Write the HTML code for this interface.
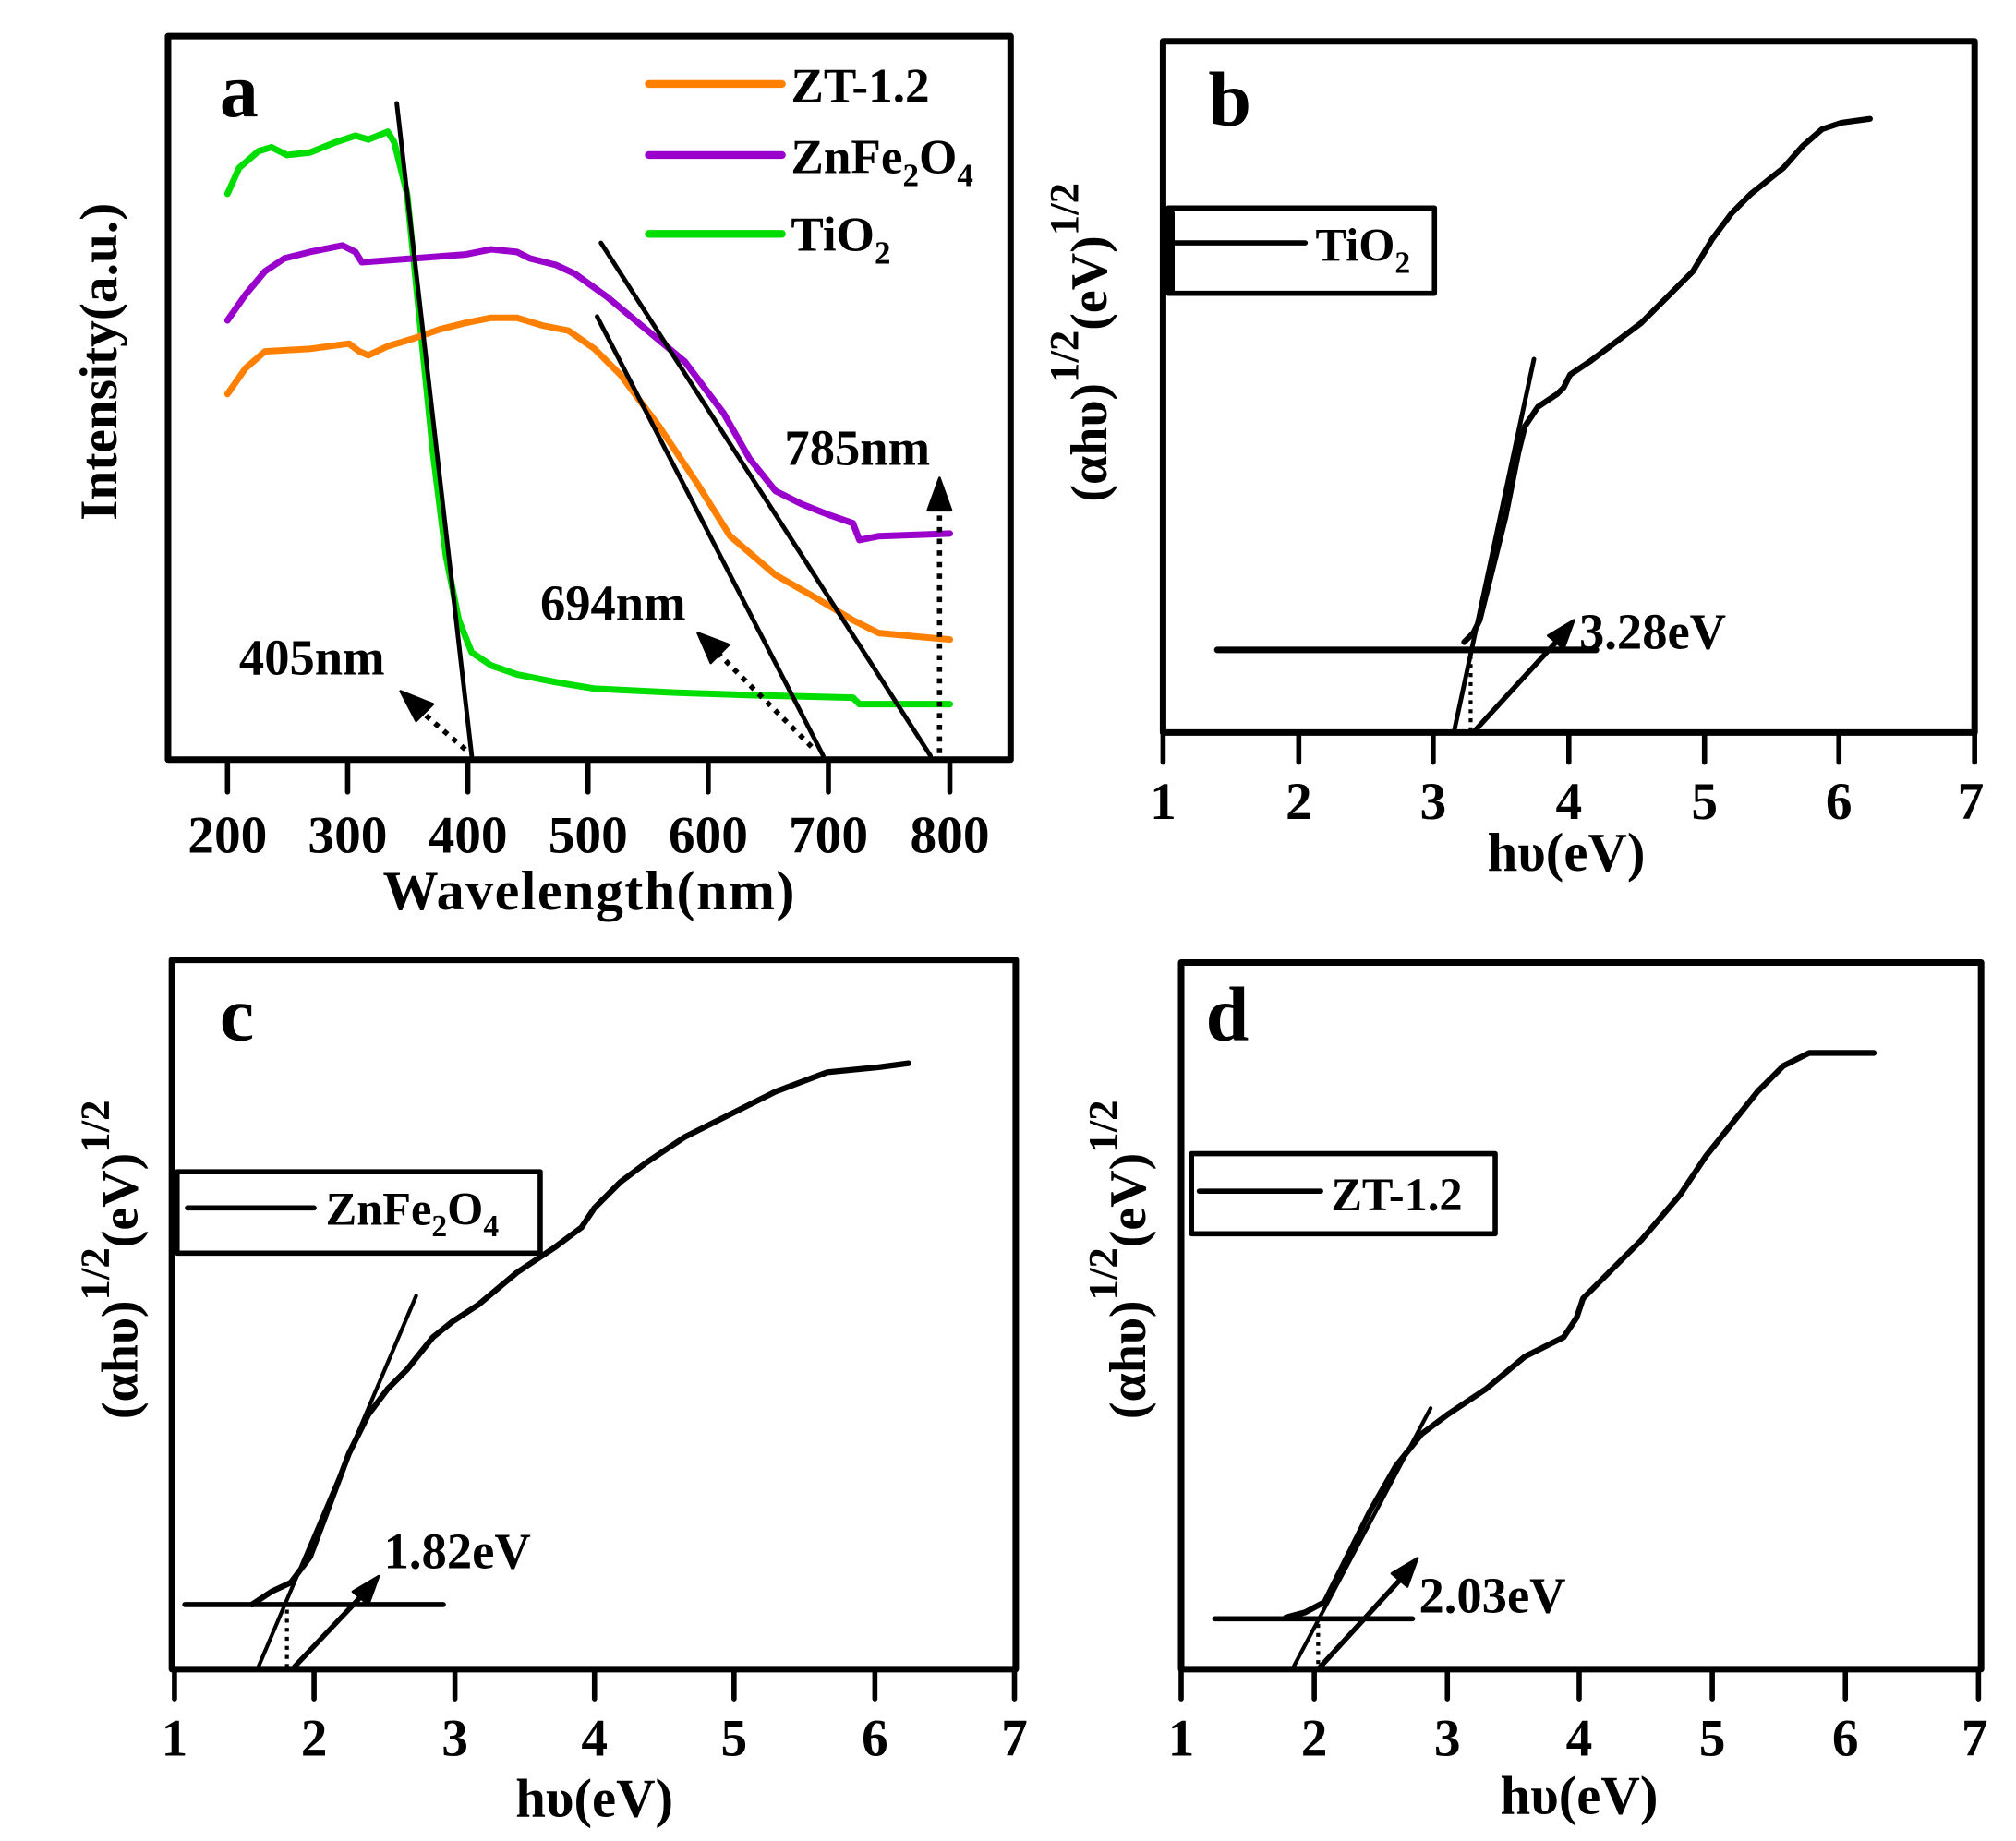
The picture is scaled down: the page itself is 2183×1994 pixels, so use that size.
<!DOCTYPE html>
<html><head><meta charset="utf-8"><style>
html,body{margin:0;padding:0;background:#fff;}
svg{display:block;}
text{font-family:"Liberation Serif",serif;font-weight:bold;fill:#000;}
</style></head><body>
<svg width="2183" height="1994" viewBox="0 0 1560 1425" xmlns="http://www.w3.org/2000/svg">
<g fill="none" stroke-linejoin="round" stroke-linecap="round">
<!-- Panel a -->
<rect x="130" y="28" width="652" height="560" stroke="#000" stroke-width="5"/>
<g stroke="#000" stroke-width="4">
<line x1="176" y1="588" x2="176" y2="613"/><line x1="269" y1="588" x2="269" y2="613"/><line x1="362" y1="588" x2="362" y2="613"/><line x1="455" y1="588" x2="455" y2="613"/><line x1="548" y1="588" x2="548" y2="613"/><line x1="641" y1="588" x2="641" y2="613"/><line x1="735" y1="588" x2="735" y2="613"/>
</g>
<polyline stroke="#00dd00" stroke-width="5" points="176,150 185,130 200,117 210,114 222,120 240,118 260,110 275,105 285,108 300,102 305,110 315,150 325,250 335,350 345,430 355,480 365,505 380,515 400,522 430,528 460,533 520,536 580,538 660,540 665,545 735,545"/>
<polyline stroke="#9900cc" stroke-width="5" points="176,248 190,228 205,210 220,200 240,195 265,190 275,195 280,203 320,200 360,197 380,193 400,195 410,200 430,205 445,212 470,230 500,255 530,280 560,320 580,355 600,380 620,390 640,398 660,405 665,418 680,415 735,413"/>
<polyline stroke="#ff8000" stroke-width="5" points="176,305 190,285 205,272 240,270 270,266 278,272 285,275 300,268 320,262 340,255 360,250 380,246 400,246 420,252 440,256 460,270 480,290 510,330 540,375 565,415 600,445 630,462 660,480 680,490 735,495"/>
<g stroke="#000" stroke-width="3.5">
<line x1="307" y1="80" x2="365" y2="585"/><line x1="462" y1="245" x2="637" y2="585"/><line x1="465" y1="188" x2="720" y2="585"/>
</g>
<g stroke="#000" stroke-width="4" stroke-dasharray="4,5" stroke-linecap="butt">
<line x1="360" y1="580" x2="325" y2="550"/><line x1="628" y1="578" x2="555" y2="505"/><line x1="727" y1="583" x2="727" y2="395"/>
</g>
<path d="M310,535 L335,545 L322,558 z M540,490 L564,499 L550,513 z M727,370 L718,395 L736,395 z" fill="#000" stroke="#000" stroke-width="2"/>
<line x1="502" y1="65" x2="605" y2="65" stroke="#ff8000" stroke-width="6"/>
<line x1="502" y1="120" x2="605" y2="120" stroke="#9900cc" stroke-width="6"/>
<line x1="502" y1="181" x2="605" y2="181" stroke="#00dd00" stroke-width="6"/>

<!-- Panel b -->
<rect x="900" y="32" width="628" height="535" stroke="#000" stroke-width="5"/>
<g stroke="#000" stroke-width="4">
<line x1="900" y1="567" x2="900" y2="590"/><line x1="1005" y1="567" x2="1005" y2="590"/><line x1="1109" y1="567" x2="1109" y2="590"/><line x1="1214" y1="567" x2="1214" y2="590"/><line x1="1319" y1="567" x2="1319" y2="590"/><line x1="1423" y1="567" x2="1423" y2="590"/><line x1="1528" y1="567" x2="1528" y2="590"/>
</g>
<polyline stroke="#000" stroke-width="4.5" points="1133,497 1140,490 1145,480 1155,440 1165,400 1175,350 1180,330 1190,315 1205,305 1210,300 1215,290 1230,280 1250,265 1270,250 1290,230 1310,210 1325,185 1340,165 1355,150 1380,130 1395,113 1410,100 1425,95 1447,92"/>
<line x1="1125" y1="567" x2="1187" y2="278" stroke="#000" stroke-width="3.5"/>
<line x1="942" y1="503" x2="1235" y2="503" stroke="#000" stroke-width="5"/>
<line x1="1140" y1="567" x2="1205" y2="496" stroke="#000" stroke-width="4"/>
<path d="M1218,480 L1198,492 L1210,502 z" fill="#000" stroke="#000" stroke-width="2"/>
<line x1="1138" y1="507" x2="1138" y2="565" stroke="#000" stroke-width="3" stroke-dasharray="3,4" stroke-linecap="butt"/>
<rect x="904" y="161" width="206" height="66" stroke="#000" stroke-width="4"/>
<line x1="908" y1="188" x2="1010" y2="188" stroke="#000" stroke-width="4"/>
<line x1="906" y1="165" x2="906" y2="225" stroke="#000" stroke-width="6"/>

<!-- Panel c -->
<rect x="133" y="743" width="653" height="549" stroke="#000" stroke-width="5"/>
<g stroke="#000" stroke-width="4">
<line x1="135" y1="1292" x2="135" y2="1315"/><line x1="243" y1="1292" x2="243" y2="1315"/><line x1="352" y1="1292" x2="352" y2="1315"/><line x1="460" y1="1292" x2="460" y2="1315"/><line x1="568" y1="1292" x2="568" y2="1315"/><line x1="677" y1="1292" x2="677" y2="1315"/><line x1="785" y1="1292" x2="785" y2="1315"/>
</g>
<polyline stroke="#000" stroke-width="4.5" points="195,1242 210,1232 225,1225 240,1205 255,1165 270,1125 285,1095 300,1075 315,1060 335,1035 350,1023 370,1010 400,985 430,965 450,950 460,935 480,915 500,900 530,880 560,865 600,845 640,830 680,826 703,823"/>
<line x1="200" y1="1290" x2="322" y2="1003" stroke="#000" stroke-width="3"/>
<line x1="143" y1="1242" x2="343" y2="1242" stroke="#000" stroke-width="4"/>
<line x1="228" y1="1290" x2="282" y2="1233" stroke="#000" stroke-width="4"/>
<path d="M293,1220 L273,1232 L285,1242 z" fill="#000" stroke="#000" stroke-width="2"/>
<line x1="222" y1="1246" x2="222" y2="1290" stroke="#000" stroke-width="3" stroke-dasharray="3,4" stroke-linecap="butt"/>
<rect x="137" y="907" width="281" height="63" stroke="#000" stroke-width="4"/>
<line x1="145" y1="935" x2="243" y2="935" stroke="#000" stroke-width="4"/>

<!-- Panel d -->
<rect x="914" y="745" width="619" height="547" stroke="#000" stroke-width="5"/>
<g stroke="#000" stroke-width="4">
<line x1="914" y1="1292" x2="914" y2="1315"/><line x1="1017" y1="1292" x2="1017" y2="1315"/><line x1="1120" y1="1292" x2="1120" y2="1315"/><line x1="1222" y1="1292" x2="1222" y2="1315"/><line x1="1325" y1="1292" x2="1325" y2="1315"/><line x1="1428" y1="1292" x2="1428" y2="1315"/><line x1="1531" y1="1292" x2="1531" y2="1315"/>
</g>
<polyline stroke="#000" stroke-width="4.5" points="995,1252 1010,1248 1025,1240 1040,1210 1060,1170 1080,1135 1100,1110 1120,1095 1150,1075 1180,1050 1210,1035 1220,1020 1225,1005 1240,990 1270,960 1300,925 1320,895 1340,870 1360,845 1380,825 1400,815 1430,815 1450,815"/>
<line x1="1000" y1="1292" x2="1107" y2="1090" stroke="#000" stroke-width="3"/>
<line x1="940" y1="1253" x2="1093" y2="1253" stroke="#000" stroke-width="4"/>
<line x1="1020" y1="1292" x2="1086" y2="1220" stroke="#000" stroke-width="4"/>
<path d="M1097,1206 L1077,1218 L1089,1228 z" fill="#000" stroke="#000" stroke-width="2"/>
<line x1="1020" y1="1257" x2="1020" y2="1290" stroke="#000" stroke-width="3" stroke-dasharray="3,4" stroke-linecap="butt"/>
<rect x="922" y="893" width="235" height="62" stroke="#000" stroke-width="4"/>
<line x1="928" y1="922" x2="1022" y2="922" stroke="#000" stroke-width="4"/>
</g>

<!-- Text panel a -->
<text x="170" y="90" font-size="60">a</text>
<text x="612" y="79" font-size="38">ZT-1.2</text>
<text x="612" y="134" font-size="38">ZnFe<tspan font-size="25" dy="10">2</tspan><tspan dy="-10">O</tspan><tspan font-size="25" dy="10">4</tspan></text>
<text x="612" y="194" font-size="38">TiO<tspan font-size="25" dy="10">2</tspan></text>
<text x="185" y="522" font-size="39">405nm</text>
<text x="418" y="480" font-size="39">694nm</text>
<text x="607" y="360" font-size="39">785nm</text>
<g font-size="41" text-anchor="middle">
<text x="176" y="660">200</text><text x="269" y="660">300</text><text x="362" y="660">400</text><text x="455" y="660">500</text><text x="548" y="660">600</text><text x="641" y="660">700</text><text x="735" y="660">800</text>
</g>
<text x="456" y="704" font-size="43" text-anchor="middle" letter-spacing="1">Wavelength(nm)</text>
<text transform="translate(90,280) rotate(-90)" font-size="41" text-anchor="middle">Intensity(a.u.)</text>

<!-- Text panel b -->
<text x="935" y="97" font-size="60">b</text>
<text x="1018" y="202" font-size="36">TiO<tspan font-size="24" dy="9">2</tspan></text>
<text x="1222" y="502" font-size="39">3.28eV</text>
<g font-size="41" text-anchor="middle">
<text x="900" y="634">1</text><text x="1005" y="634">2</text><text x="1109" y="634">3</text><text x="1214" y="634">4</text><text x="1319" y="634">5</text><text x="1423" y="634">6</text><text x="1525" y="634">7</text>
</g>
<text x="1212" y="674" font-size="42" text-anchor="middle">hυ(eV)</text>
<text transform="translate(856,265) rotate(-90)" font-size="40" text-anchor="middle">(αhυ)<tspan font-size="32" dy="-22">1/2</tspan><tspan dy="22">(eV)</tspan><tspan font-size="32" dy="-22">1/2</tspan></text>

<!-- Text panel c -->
<text x="170" y="805" font-size="60">c</text>
<text x="252" y="948" font-size="36">ZnFe<tspan font-size="24" dy="9">2</tspan><tspan dy="-9">O</tspan><tspan font-size="24" dy="9">4</tspan></text>
<text x="297" y="1214" font-size="39">1.82eV</text>
<g font-size="41" text-anchor="middle">
<text x="135" y="1359">1</text><text x="243" y="1359">2</text><text x="352" y="1359">3</text><text x="460" y="1359">4</text><text x="568" y="1359">5</text><text x="677" y="1359">6</text><text x="785" y="1359">7</text>
</g>
<text x="460" y="1406" font-size="42" text-anchor="middle">hυ(eV)</text>
<text transform="translate(106,975) rotate(-90)" font-size="40" text-anchor="middle">(αhυ)<tspan font-size="32" dy="-22">1/2</tspan><tspan dy="22">(eV)</tspan><tspan font-size="32" dy="-22">1/2</tspan></text>

<!-- Text panel d -->
<text x="933" y="805" font-size="60">d</text>
<text x="1030" y="937" font-size="36">ZT-1.2</text>
<text x="1098" y="1248" font-size="39">2.03eV</text>
<g font-size="41" text-anchor="middle">
<text x="914" y="1359">1</text><text x="1017" y="1359">2</text><text x="1120" y="1359">3</text><text x="1222" y="1359">4</text><text x="1325" y="1359">5</text><text x="1428" y="1359">6</text><text x="1528" y="1359">7</text>
</g>
<text x="1222" y="1404" font-size="42" text-anchor="middle">hυ(eV)</text>
<text transform="translate(886,975) rotate(-90)" font-size="40" text-anchor="middle">(αhυ)<tspan font-size="32" dy="-22">1/2</tspan><tspan dy="22">(eV)</tspan><tspan font-size="32" dy="-22">1/2</tspan></text>
</svg>
</body></html>
